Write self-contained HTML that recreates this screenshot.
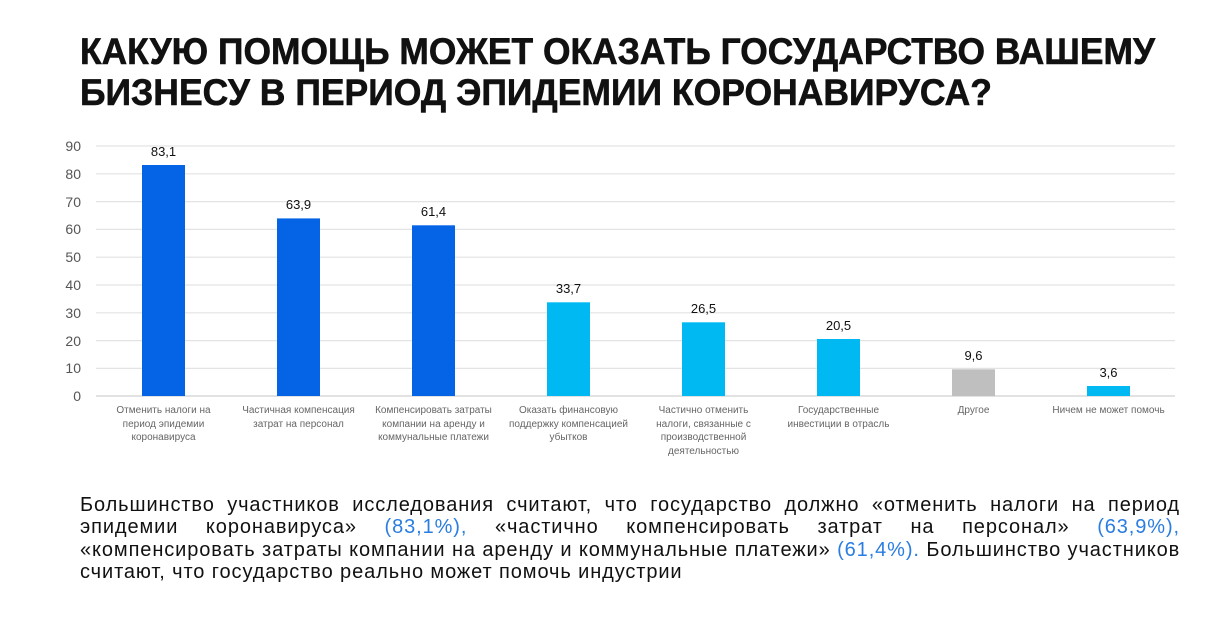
<!DOCTYPE html>
<html><head><meta charset="utf-8"><style>
html,body{margin:0;padding:0;background:#fff;}
body{width:1219px;height:627px;overflow:hidden;position:relative;font-family:"Liberation Sans",sans-serif;}
.p{position:absolute;left:80px;top:494px;width:1100px;font-size:20px;line-height:22.4px;color:#111;letter-spacing:0.9px;}
.p div{text-align:justify;text-align-last:justify;white-space:nowrap;}
.p div.l{text-align-last:left;}
.b{color:#2a7de1;}
</style></head><body>
<svg width="1219" height="627" style="position:absolute;left:0;top:0" font-family="Liberation Sans, sans-serif">
<text x="80" y="64" font-size="37" font-weight="bold" fill="#111" stroke="#111" stroke-width="0.6" textLength="1075" lengthAdjust="spacingAndGlyphs">КАКУЮ ПОМОЩЬ МОЖЕТ ОКАЗАТЬ ГОСУДАРСТВО ВАШЕМУ</text>
<text x="80" y="105" font-size="37" font-weight="bold" fill="#111" stroke="#111" stroke-width="0.6" textLength="912" lengthAdjust="spacingAndGlyphs">БИЗНЕСУ В ПЕРИОД ЭПИДЕМИИ КОРОНАВИРУСА?</text>
<g stroke="#e3e3e3" stroke-width="1.2">
<line x1="96" x2="1175" y1="146" y2="146"/><line x1="96" x2="1175" y1="173.8" y2="173.8"/>
<line x1="96" x2="1175" y1="201.6" y2="201.6"/><line x1="96" x2="1175" y1="229.4" y2="229.4"/>
<line x1="96" x2="1175" y1="257.2" y2="257.2"/><line x1="96" x2="1175" y1="285" y2="285"/>
<line x1="96" x2="1175" y1="312.8" y2="312.8"/><line x1="96" x2="1175" y1="340.6" y2="340.6"/>
<line x1="96" x2="1175" y1="368.4" y2="368.4"/>
</g>
<line x1="96" x2="1175" y1="396" y2="396" stroke="#d0d0d0" stroke-width="1.2"/>
<g font-size="14" fill="#555" text-anchor="end">
<text x="81" y="151">90</text><text x="81" y="179">80</text><text x="81" y="207">70</text>
<text x="81" y="234">60</text><text x="81" y="262">50</text><text x="81" y="290">40</text>
<text x="81" y="318">30</text><text x="81" y="346">20</text><text x="81" y="373">10</text>
<text x="81" y="401">0</text>
</g>
<g>
<rect x="142" y="165" width="43" height="231" fill="#0563e6"/>
<rect x="277" y="218.4" width="43" height="177.6" fill="#0563e6"/>
<rect x="412" y="225.3" width="43" height="170.7" fill="#0563e6"/>
<rect x="547" y="302.3" width="43" height="93.7" fill="#00b8f2"/>
<rect x="682" y="322.3" width="43" height="73.7" fill="#00b8f2"/>
<rect x="817" y="339" width="43" height="57" fill="#00b8f2"/>
<rect x="952" y="369.3" width="43" height="26.7" fill="#bfbfbf"/>
<rect x="1087" y="386" width="43" height="10" fill="#00b8f2"/>
</g>
<g font-size="13" fill="#111" text-anchor="middle">
<text x="163.5" y="156">83,1</text><text x="298.5" y="209">63,9</text><text x="433.5" y="216">61,4</text>
<text x="568.5" y="293">33,7</text><text x="703.5" y="313">26,5</text><text x="838.5" y="330">20,5</text>
<text x="973.5" y="360">9,6</text><text x="1108.5" y="377">3,6</text>
</g>
<g font-size="10" fill="#666" text-anchor="middle">
<text x="163.5" y="413">Отменить налоги на</text><text x="163.5" y="427">период эпидемии</text><text x="163.5" y="440">коронавируса</text>
<text x="298.5" y="413">Частичная компенсация</text><text x="298.5" y="427">затрат на персонал</text>
<text x="433.5" y="413">Компенсировать затраты</text><text x="433.5" y="427">компании на аренду и</text><text x="433.5" y="440">коммунальные платежи</text>
<text x="568.5" y="413">Оказать финансовую</text><text x="568.5" y="427">поддержку компенсацией</text><text x="568.5" y="440">убытков</text>
<text x="703.5" y="413">Частично отменить</text><text x="703.5" y="427">налоги, связанные с</text><text x="703.5" y="440">производственной</text><text x="703.5" y="454">деятельностью</text>
<text x="838.5" y="413">Государственные</text><text x="838.5" y="427">инвестиции в отрасль</text>
<text x="973.5" y="413">Другое</text>
<text x="1108.5" y="413">Ничем не может помочь</text>
</g>
</svg>
<div class="p">
<div>Большинство участников исследования считают, что государство должно «отменить налоги на период</div>
<div>эпидемии коронавируса» <span class="b">(83,1%),</span> «частично компенсировать затрат на персонал» <span class="b">(63,9%),</span></div>
<div>«компенсировать затраты компании на аренду и коммунальные платежи» <span class="b">(61,4%).</span> Большинство участников</div>
<div class="l">считают, что государство реально может помочь индустрии</div>
</div>
</body></html>
